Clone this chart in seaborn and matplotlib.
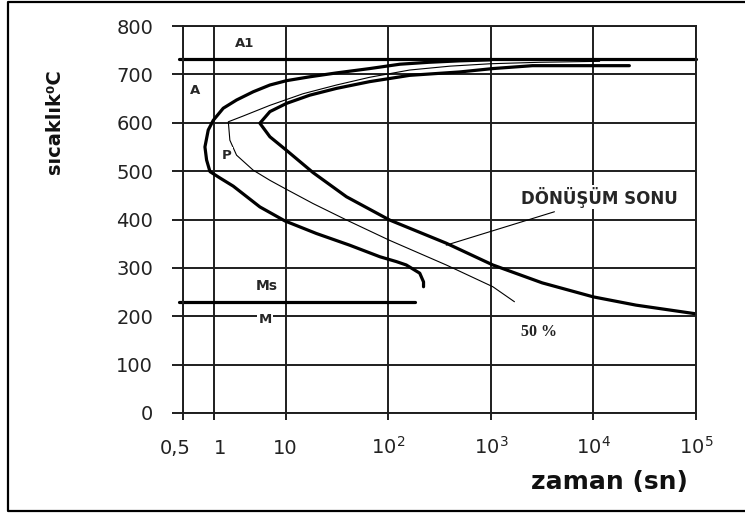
import numpy as np
import pandas as pd
import matplotlib
matplotlib.use("Agg")
import matplotlib.pyplot as plt
import matplotlib.transforms as mtransforms
from matplotlib.lines import Line2D
import seaborn as sns

# ---------------- data (time in s, temperature in degC) ----------------
start_t = [1000, 500, 250, 130, 66, 31.3, 17.2, 10.2, 6.04, 3.53, 2.07, 1.35, 0.986,
           0.881, 0.818, 0.849, 0.916, 1.21, 1.86, 4.38, 9.8, 20, 42, 83, 120, 150,
           203, 221, 221]
start_T = [730, 728, 725, 721, 712, 703, 695, 687, 678, 664, 647, 630, 605,
           585, 550, 523, 499, 486, 469, 426, 397, 371, 347, 323, 313, 306,
           289, 271, 261]

half_t = [11500, 3000, 1000, 400, 162, 66, 31.3, 14.8, 6.04, 2.57, 1.59,
          1.67, 2.07, 3.53, 6.04, 9.8, 18.5, 39.2, 103, 368, 1047, 1700]
half_T = [727, 725, 722, 717, 709, 694, 678, 660, 636, 614, 602,
          564, 533, 502, 481, 464, 433, 399, 357, 306, 261, 230]

finish_t = [22400, 2550, 1047, 497, 162, 66, 31.3, 17.2, 10.2, 6.04, 4.38,
            6.04, 10.2, 18.5, 39.2, 103, 368, 1047, 3170, 10000, 26000, 55000, 100000]
finish_T = [718, 718, 712, 705, 698, 685, 671, 657, 640, 623, 599,
            571, 543, 497, 447, 399, 351, 306, 269, 240, 223, 213, 205]

a1_t = [0.46, 100000]
a1_T = [731, 731]
ms_t = [0.46, 182]
ms_T = [230, 230]
leader_t = [368, 4170]
leader_T = [347, 416]

x_ticks = [0.5, 1, 10, 100, 1000, 10000, 100000]
x_tick_labels = ["0,5", "1", "10", r"$\mathregular{10^{2}}$", r"$\mathregular{10^{3}}$",
                 r"$\mathregular{10^{4}}$", r"$\mathregular{10^{5}}$"]
y_ticks = [0, 100, 200, 300, 400, 500, 600, 700, 800]

# ---------------- irregular "log" time scale of the drawing ----------------
L2 = np.log10(2.0)


def fwd(t):
    t = np.maximum(np.asarray(t, dtype=float), 1e-9)
    lg = np.log10(t)
    return np.where(t >= 10, lg,
                    np.where(t >= 1, L2 + (1 - L2) * lg, np.log10(t / 0.5)))


def inv(u):
    u = np.clip(np.asarray(u, dtype=float), -5, 10)
    return np.where(u >= 1, 10.0 ** u,
                    np.where(u >= L2, 10.0 ** ((u - L2) / (1 - L2)), 0.5 * 10.0 ** u))


sns.set_theme(style="white")
plt.rcParams["font.family"] = ["DejaVu Sans"]
plt.rcParams["mathtext.fontset"] = "dejavusans"

fig = plt.figure(figsize=(7.45, 5.13), dpi=100)
ax = fig.add_axes([183 / 745, 1 - 413 / 513, (696 - 183) / 745, (413 - 26) / 513])
ax.set_xscale("function", functions=(fwd, inv))

GC = "#1e1e1e"
GW = 1.4

sns.lineplot(x=start_t, y=start_T, sort=False, estimator=None, color="black",
             lw=2.3, ax=ax)
sns.lineplot(x=half_t, y=half_T, sort=False, estimator=None, color="black",
             lw=0.8, ax=ax)
sns.lineplot(x=finish_t, y=finish_T, sort=False, estimator=None, color="black",
             lw=2.3, ax=ax)
for xs, ys, w in [(a1_t, a1_T, 2.3), (ms_t, ms_T, 2.3), (leader_t, leader_T, 0.8)]:
    sns.lineplot(x=xs, y=ys, sort=False, estimator=None, color="black", lw=w,
                 ax=ax, clip_on=False)

ax.set_xlim(0.5, 100000)
ax.set_ylim(0, 800)
ax.set_xticks(x_ticks)
ax.set_xticklabels(x_tick_labels)
ax.set_xticks([], minor=True)
ax.set_yticks(y_ticks)
ax.set_yticklabels([str(v) for v in y_ticks])

ax.set_axisbelow(True)
ax.grid(True, color=GC, lw=GW)
for s in ax.spines.values():
    s.set_color(GC)
    s.set_linewidth(GW)

ax.tick_params(axis="y", left=True, length=8, width=GW, color=GC, pad=13.5,
               labelsize=14, labelcolor="#222222")
ax.tick_params(axis="x", bottom=True, length=5, width=GW, color=GC, pad=24.5,
               labelsize=14, labelcolor="#222222")

# shift the crowded first two x labels like in the drawing; baseline-align all
labs = ax.get_xticklabels()
for lab in labs:
    lab.set_va("baseline")
labs[0].set_transform(labs[0].get_transform() +
                      mtransforms.ScaledTranslation(-0.08, 0, fig.dpi_scale_trans))
labs[1].set_transform(labs[1].get_transform() +
                      mtransforms.ScaledTranslation(0.06, 0, fig.dpi_scale_trans))

ax.set_xlabel("zaman (sn)", fontsize=18, fontweight="bold", va="center", color="#111111")
ax.xaxis.set_label_coords(0.832, -0.178)
ax.set_ylabel("sıcaklık⁰C", fontsize=14, fontweight="bold", va="center", color="#111111")
ax.yaxis.set_label_coords(-0.25, 0.752)

bb = dict(facecolor="white", edgecolor="none", pad=1.0)
lab_kw = dict(fontweight="bold", ha="center", va="center", zorder=6, bbox=bb)
ax.text(2.7, 764, "A1", fontsize=9.5, **lab_kw)
ax.text(0.655, 667, "A", fontsize=9.5, **lab_kw)
ax.text(1.50, 533, "P", fontsize=9.5, **lab_kw)
ax.text(5.4, 262, "Ms", fontsize=10, **lab_kw)
ax.text(5.15, 194, "M", fontsize=9.5, **lab_kw)
ax.text(11500, 446, "DÖNÜŞÜM SONU", fontsize=12, **lab_kw)
ax.text(2920, 167, "50 %", fontsize=11.5, fontweight="bold", ha="center", va="center",
        family=["Liberation Serif", "DejaVu Serif"], color="#222222", zorder=6)

# outer frame (left, top, bottom; open at the right like the picture)
xl = 8 / 745
yt = 1 - 2 / 513
yb = 1 - 511 / 513
fig.add_artist(Line2D([1.0, xl, xl, 1.0], [yt, yt, yb, yb], transform=fig.transFigure,
                      color="black", lw=1.6))

fig.savefig("out.png", dpi=100)
